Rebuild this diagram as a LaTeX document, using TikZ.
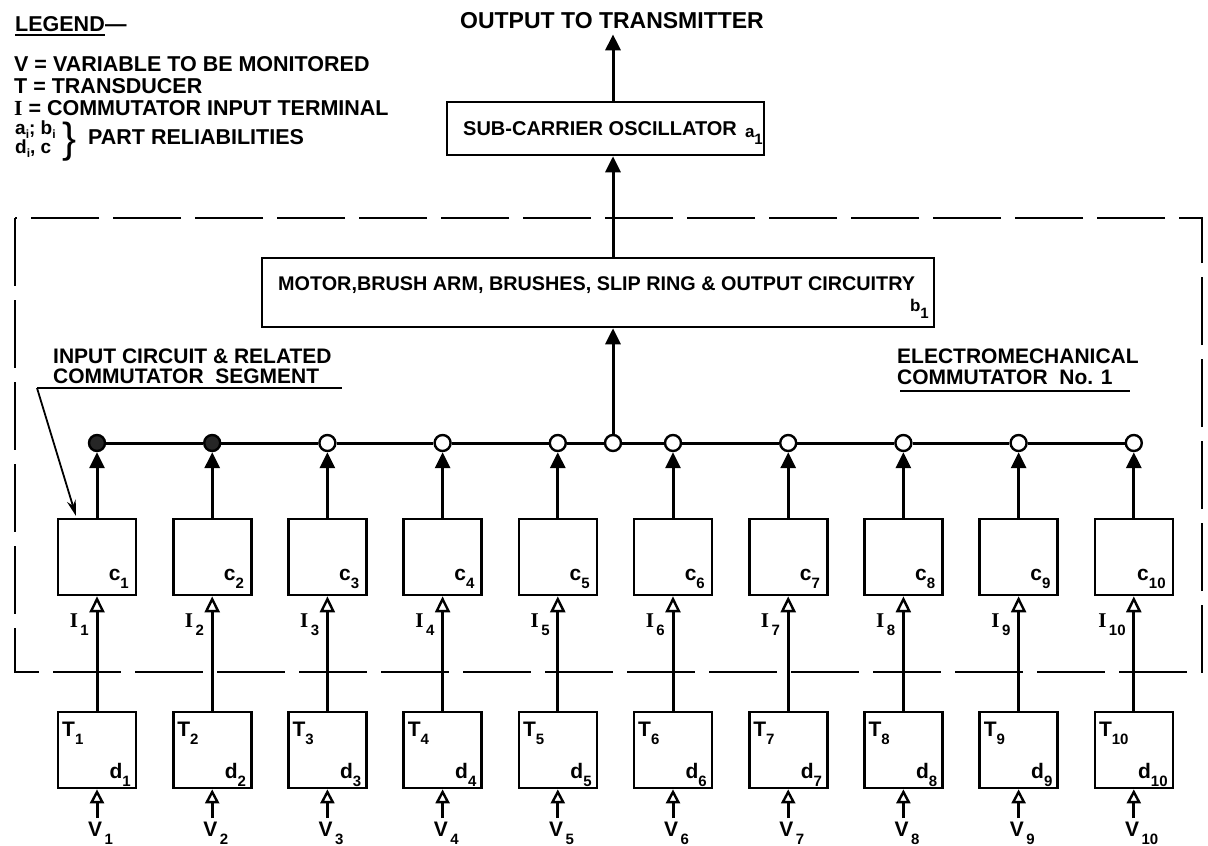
\documentclass[tikz,border=0pt]{standalone}
\usepackage{fontspec}
\setmainfont{Liberation Sans}
\newfontfamily\serifI{Liberation Serif}
\usetikzlibrary{arrows.meta}
\newcommand{\sbx}[1]{\raisebox{-0.42em}{\fontsize{15}{15}\selectfont #1}}
\newcommand{\sbl}[1]{\raisebox{-0.25em}{\fontsize{12}{12}\selectfont #1}}
\newcommand{\fs}[1]{\fontsize{#1}{#1}\selectfont}
\newcommand{\sI}{{\serifI\bfseries I}}
\tikzset{
  blk/.style={draw, line width=2.6pt, inner sep=0pt, minimum width=78pt, minimum height=76pt},
  bigbox/.style={draw, line width=2.6pt, inner sep=0pt},
  lbl/.style={inner sep=0pt, font=\bfseries\fs{21}},
  txt/.style={inner sep=0pt, font=\bfseries\fs{21.5}},
  ring/.style={circle, draw, fill=white, line width=2.4pt, minimum size=16pt, inner sep=0pt,
    path picture={\fill (path picture bounding box.center) circle (1.6pt);}},
  fullring/.style={circle, draw, fill=black!85, line width=2.4pt, minimum size=16pt, inner sep=0pt},
  fa/.style={line width=3pt, -{Triangle[length=16pt,width=15pt]}},
  oa/.style={line width=3pt, -{Triangle[open,length=16pt,width=15pt,fill=white,line width=2.4pt]}},
  va/.style={line width=3pt, -{Triangle[open,length=14pt,width=14pt,fill=white,line width=2.4pt]}},
  lead/.style={line width=1.8pt, -{Stealth[length=16pt,width=9pt]}},
  frame/.style={line width=2.4pt, dash pattern=on 68pt off 14pt},
}
\begin{document}
\begin{tikzpicture}[x=1pt,y=-1pt]
\useasboundingbox (0,0) rectangle (1208,846);
\fill[white] (0,0) rectangle (1208,846);

% dashed commutator frame
\draw[frame] (15,218) rectangle (1202,672);

% legend
\node[txt, anchor=base west] (leg) at (15,31) {LEGEND};
\node[txt, anchor=base west] (legd) at (leg.base east) {—};
\draw[line width=1.8pt] ([yshift=-4pt]leg.base west) -- ([yshift=-4pt]leg.base east);
\node[txt, anchor=base west] (lg1) at (14,71) {V = VARIABLE TO BE MONITORED};
\node[txt, anchor=base west] (lg2) at (14,93) {T = TRANSDUCER};
\node[txt, anchor=base west] (lg3) at (14,115) {\sI\ = COMMUTATOR INPUT TERMINAL};
\node[inner sep=0pt, font=\bfseries\fs{19}, anchor=base west] (lg4) at (15,134) {a\sbl{i}; b\sbl{i}};
\node[inner sep=0pt, font=\bfseries\fs{19}, anchor=base west] (lg5) at (15,153) {d\sbl{i}, c};
\node[inner sep=0pt, font=\fs{42}, anchor=base west] (brace) at (62,152) {\}};
\node[txt, anchor=base west] (lg6) at (88,144) {PART RELIABILITIES};

% top chain
\node[inner sep=0pt, font=\bfseries\fs{23}] (out) at (612,21) {OUTPUT TO TRANSMITTER};
\node[bigbox, minimum width=317pt, minimum height=53pt] (sco) at (605.5,128.5) {};
\node[inner sep=0pt, font=\bfseries\fs{20}, anchor=base west] (scot) at (463,135) {SUB-CARRIER OSCILLATOR};
\node[lbl, font=\bfseries\fs{17}, anchor=base east] (scoa) at (763,137) {a\sbx{1}};

\node[bigbox, minimum width=672pt, minimum height=69pt] (mot) at (598,292.5) {};
\node[inner sep=0pt, font=\bfseries\fs{19.8}, anchor=base west] (mott) at (278,290) {MOTOR,BRUSH ARM, BRUSHES, SLIP RING \& OUTPUT CIRCUITRY};
\node[lbl, font=\bfseries\fs{17}, anchor=base east] (motb) at (929,311) {b\sbx{1}};

\node[ring] (jn) at (613,443) {};

\draw[fa] (jn.north) -- (jn |- mot.south);
\draw[fa] (mot.north -| jn) -- (sco.south -| jn);
\draw[fa] (sco.north -| jn) -- ([yshift=-5pt]out.south -| jn);

% side labels
\node[lbl, anchor=base west] (in1) at (53,363) {INPUT CIRCUIT \& RELATED};
\node[lbl, anchor=base west] (in2) at (53,383) {COMMUTATOR\ \ SEGMENT};
\coordinate (ula) at (37,388);
\coordinate (ulb) at (342,388);
\coordinate (ldr) at (76,516);
\draw[line width=1.8pt] (ula) -- (ulb);
\draw[lead] (ula) -- (ldr);

\node[lbl, anchor=base west] (em1) at (897,363) {ELECTROMECHANICAL};
\node[lbl, anchor=base west] (em2) at (897,384) {COMMUTATOR\ \ No. 1};
\coordinate (ulc) at (900,391);
\coordinate (uld) at (1130,391);
\draw[line width=1.8pt] (ulc) -- (uld);

% columns
\foreach \i in {1,...,10} {
  \pgfmathsetmacro\xx{97+(\i-1)*115.2}
  \node[blk] (c\i) at (\xx,557) {};
  \node[blk] (t\i) at (\xx,750) {};
  \coordinate (v\i) at (\xx,818);
  \node[lbl, anchor=base east] (cl\i) at (\xx+32,580) {c\sbx{\i}};
  \node[lbl, anchor=base east] (dl\i) at (\xx+34,778) {d\sbx{\i}};
  \node[lbl, anchor=base west] (tl\i) at (\xx-35,736) {T\sbx{\i}};
  \node[lbl, anchor=base east] (il\i) at (\xx-8,627) {\sI\sbx{\,\i}};
  \node[lbl, anchor=base west] (vl\i) at (\xx-9,836) {V\sbx{\,\i}};
}
\foreach \i in {1,2} { \node[fullring] (r\i) at (c\i |- jn) {}; }
\foreach \i in {3,...,10} { \node[ring] (r\i) at (c\i |- jn) {}; }

% bus
\foreach \a/\b in {r1/r2,r2/r3,r3/r4,r4/r5,r5/jn,jn/r6,r6/r7,r7/r8,r8/r9,r9/r10}
  \draw[line width=3pt] (\a) -- (\b);

\foreach \i in {1,...,10} {
  \draw[fa] (c\i.north) -- (r\i.south);
  \draw[oa] (t\i.north) -- (c\i.south);
  \draw[va] (v\i) -- (t\i.south);
}
\end{tikzpicture}
\end{document}
